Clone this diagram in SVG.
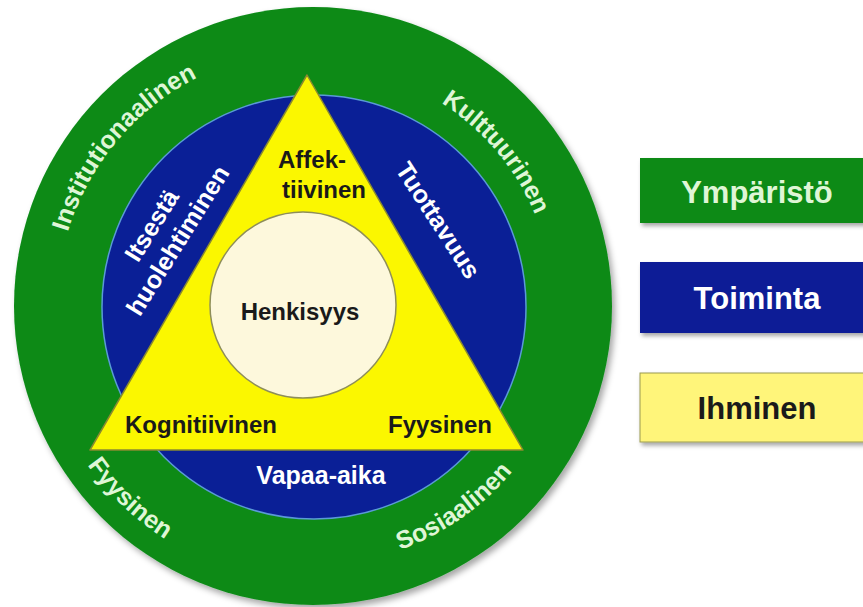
<svg xmlns="http://www.w3.org/2000/svg" width="863" height="607" viewBox="0 0 863 607">
<defs>
<filter id="sh" x="-10%" y="-10%" width="130%" height="130%"><feDropShadow dx="3" dy="4" stdDeviation="3" flood-color="#000" flood-opacity="0.35"/></filter>
<filter id="shs" x="-10%" y="-20%" width="130%" height="150%"><feDropShadow dx="2" dy="3" stdDeviation="2" flood-color="#000" flood-opacity="0.35"/></filter>
<path id="pInst" d="M72.4,393.6 A256,256 0 0 1 357.4,53.9"/>
<path id="pKult" d="M271.3,69.6 A240,240 0 0 1 538.5,388.1"/>
<path id="pFyys" d="M44.7,241.1 A276,276 0 0 0 390.9,570.8"/>
<path id="pSos" d="M203.5,540.7 A259,259 0 0 0 571,283.4"/>
</defs>
<style>
.t{font-family:"Liberation Sans",Arial,sans-serif;font-weight:bold;}
.env{fill:#dff6d6;font-size:25px;}
.act{fill:#ffffff;font-size:25px;}
.hum{fill:#1a1a1a;font-size:24px;}
.leg{font-size:31px;text-anchor:middle;}
</style>
<rect width="863" height="607" fill="#ffffff"/>
<g id="ymparisto">
<circle cx="313" cy="306" r="299" fill="#0b8a18" filter="url(#sh)"/>
<text class="t env" text-anchor="middle"><textPath href="#pInst" startOffset="50%">Institutionaalinen</textPath></text>
<text class="t env" text-anchor="middle"><textPath href="#pKult" startOffset="50%">Kulttuurinen</textPath></text>
<text class="t env" text-anchor="middle"><textPath href="#pFyys" startOffset="50%">Fyysinen</textPath></text>
<text class="t env" text-anchor="middle"><textPath href="#pSos" startOffset="50%">Sosiaalinen</textPath></text>
</g>
<g id="toiminta">
<circle cx="314" cy="307" r="212" fill="#0a1f96" stroke="#5a9ad6" stroke-width="1.5"/>
<text class="t act" text-anchor="middle" transform="translate(159,230) rotate(-58)">Itsestä</text>
<text class="t act" text-anchor="middle" transform="translate(185,245) rotate(-58)">huolehtiminen</text>
<text class="t act" text-anchor="middle" transform="translate(431,225) rotate(57)">Tuottavuus</text>
<text class="t act" x="321" y="484" text-anchor="middle">Vapaa-aika</text>
</g>
<g id="ihminen">
<polygon points="307,75 90,450 523,450" fill="#fbf700" stroke="#8a8a30" stroke-width="1.5" stroke-linejoin="round"/>
<text class="t hum" x="278" y="168">Affek-</text>
<text class="t hum" x="282" y="198">tiivinen</text>
<text class="t hum" x="201" y="433" text-anchor="middle">Kognitiivinen</text>
<text class="t hum" x="440" y="433" text-anchor="middle">Fyysinen</text>
</g>
<g id="henkisyys">
<circle cx="303" cy="305" r="93" fill="#fdf8dc" stroke="#8e8e5a" stroke-width="1.5"/>
<text class="t hum" x="300" y="320" text-anchor="middle">Henkisyys</text>
</g>
<g id="legend-ymparisto">
<rect x="640" y="158" width="240" height="65" fill="#0b8a18" filter="url(#shs)"/>
<text class="t leg" x="757" y="203" fill="#dff6d6">Ympäristö</text>
</g>
<g id="legend-toiminta">
<rect x="640" y="262" width="240" height="71" fill="#0a1f96" filter="url(#shs)"/>
<text class="t leg" x="757" y="309" fill="#ffffff">Toiminta</text>
</g>
<g id="legend-ihminen">
<rect x="640" y="373" width="240" height="69" fill="#fff57a" stroke="#9a9a50" stroke-width="1" filter="url(#shs)"/>
<text class="t leg" x="757" y="419" fill="#1a1a1a">Ihminen</text>
</g>
</svg>
